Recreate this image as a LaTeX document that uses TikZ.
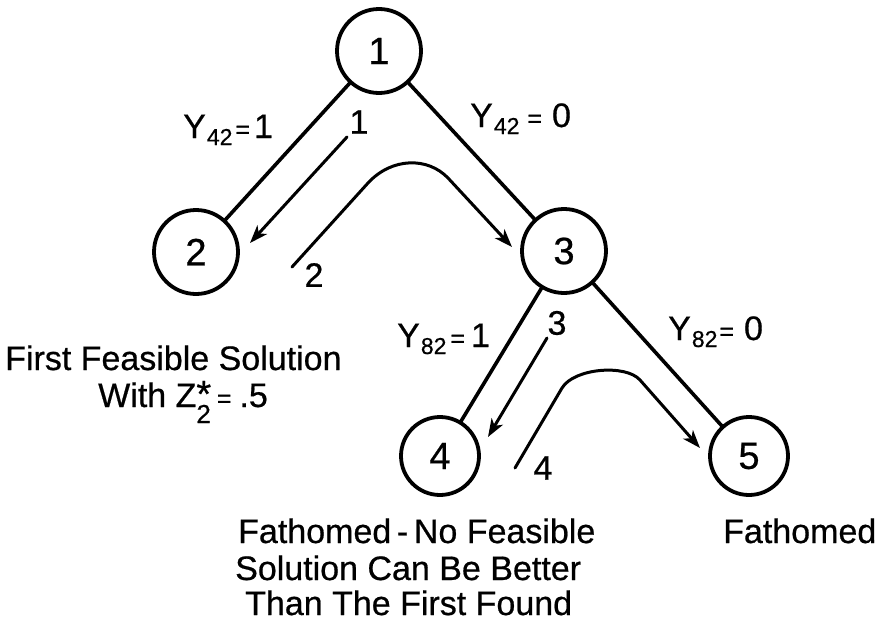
\documentclass[tikz,border=0pt]{standalone}
\usepackage{fontspec}
\setmainfont{Liberation Sans}[FakeBold=0.6]
\usetikzlibrary{arrows.meta}
\newcommand\ylab[4]{Y\kern1pt\raisebox{-7pt}{\fontsize{23}{23}\selectfont #1}\kern#3{\fontsize{25}{25}\selectfont =}\kern#4#2}
\begin{document}
\begin{tikzpicture}[x=1pt,y=-1pt,
  state/.style={circle,draw,line width=3.8pt,inner sep=0pt,minimum size=#1,font=\fontsize{38}{38}\selectfont},
  state/.default=84pt,
  edge/.style={line width=3.6pt,line cap=round},
  trav/.style={line width=3pt,line cap=round,-{Stealth[length=18pt,width=13pt,inset=5pt]}},
  txt/.style={anchor=base west,inner sep=0pt,font=\fontsize{34}{36}\selectfont},
  num/.style={inner sep=0pt,font=\fontsize{34}{34}\selectfont}]
\useasboundingbox (0,0) rectangle (876,632);
% nodes
\node[state] (n1) at (379,51) {1};
\node[state] (n2) at (196,252) {2};
\node[state] (n3) at (564,251) {3};
\node[state=78pt] (n4) at (440,456) {4};
\node[state=78pt] (n5) at (749,456) {5};
% tree edges
\draw[edge] (n1) -- (n2);
\draw[edge] (n1) -- (n3);
\draw[edge] (n3) -- (n4);
\draw[edge] (n3) -- (n5);
% traversal arrows
\coordinate (a1s) at (347,137);
\coordinate (a1e) at (250,243);
\draw[trav] (a1s) -- (a1e);
\coordinate (a2s) at (292,267);
\coordinate (a2a) at (368,183);
\coordinate (a2b) at (448,178);
\coordinate (a2e) at (512,247);
\draw[trav] (a2s) -- (a2a) .. controls (392,157) and (428,157) .. (a2b) -- (a2e);
\coordinate (a3s) at (547,338);
\coordinate (a3e) at (488,437);
\draw[trav] (a3s) -- (a3e);
\coordinate (a4s) at (515,468);
\coordinate (a4a) at (562,388);
\coordinate (a4b) at (640,380);
\coordinate (a4e) at (700,448);
\draw[trav] (a4s) -- (a4a) .. controls (574,368) and (626,364) .. (a4b) -- (a4e);
% step numbers
\node[num] (l1) at (359,122) {1};
\node[num] (l2) at (314,275) {2};
\node[num] (l3) at (557,323) {3};
\node[num] (l4) at (543,468) {4};
% branch labels
\node[txt] (y1) at (183,138) {\ylab{42}{1}{3pt}{4pt}};
\node[txt] (y2) at (470,127) {\ylab{42}{0}{8pt}{10pt}};
\node[txt] (y3) at (397,347) {\ylab{82}{1}{4pt}{6pt}};
\node[txt] (y4) at (668,340) {\ylab{82}{0}{2pt}{10pt}};
% annotations
\node[txt] (t1) at (5,370) {First Feasible Solution};
\node[txt] (t2) at (98,407) {With Z\rlap{\smash{\raisebox{0pt}{\fontsize{38}{38}\selectfont *}}}\smash{\raisebox{-16pt}{\fontsize{26}{26}\selectfont 2}}\kern6pt{\fontsize{25}{25}\selectfont =}\kern8pt.5};
\node[txt] (b1) at (238,543) {Fathomed\,-\,No Feasible};
\node[txt] (b2) at (235,580) {Solution Can Be Better};
\node[txt] (b3) at (245,615) {Than The First Found};
\node[txt] (f5) at (723,543) {Fathomed};
\end{tikzpicture}
\end{document}
